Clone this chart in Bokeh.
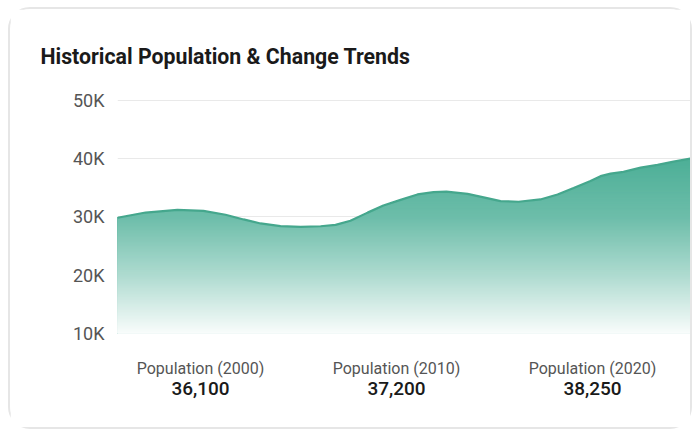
import numpy as np
from bokeh.plotting import figure
from bokeh.models import Range1d, FixedTicker, CustomJSTickFormatter, LinearAxis
from bokeh.embed import file_html
from bokeh.resources import INLINE

# ---- data ----
title_text = "Historical Population & Change Trends"
years = [2000.00, 2000.98, 2002.09, 2003.00, 2003.77, 2004.40, 2004.99, 2005.69, 2006.39,
         2007.09, 2007.61, 2008.13, 2008.73, 2009.28, 2009.88, 2010.47, 2011.03, 2011.48,
         2012.22, 2012.78, 2013.37, 2014.00, 2014.76, 2015.36, 2015.92, 2016.51, 2016.86,
         2017.21, 2017.66, 2018.26, 2018.85, 2019.41, 2020.00]
population = [29860, 30755, 31200, 31050, 30380, 29570, 28880, 28420, 28300,
              28400, 28630, 29350, 30740, 31970, 32920, 33860, 34260, 34330,
              33950, 33350, 32710, 32610, 33000, 33860, 34960, 36150, 37000,
              37420, 37740, 38450, 38930, 39480, 40010]
y_ticks = [10000, 20000, 30000, 40000, 50000]
stat_labels = ["Population (2000)", "Population (2010)", "Population (2020)"]
stat_values = [36100, 37200, 38250]

# ---- style ----
FONT = "Roboto"
base_rgb = np.array([77, 175, 151])
line_color = "#45a78d"

W, H = 684, 422
p = figure(width=W, height=H, output_backend="svg", toolbar_location=None,
           x_axis_location=None,
           x_range=Range1d(2000, 2020), y_range=Range1d(10000, 50150),
           min_border_left=107, min_border_right=4, min_border_top=90, min_border_bottom=98,
           styles={"margin": "7px 0 0 8px", "border": "2px solid #e6e6e6", "border-radius": "22px"})
p.outline_line_color = None
p.background_fill_color = "white"
p.border_fill_color = "white"
for g in p.grid:
    if g.dimension == 0:
        g.visible = False
    else:
        g.grid_line_color = "#e9e9e9"
        g.grid_line_width = 1

yax = p.yaxis[0]
yax.ticker = FixedTicker(ticks=y_ticks)
yax.formatter = CustomJSTickFormatter(code="return (tick/1000) + 'K';")
yax.axis_line_color = None
yax.major_tick_line_color = None
yax.minor_tick_line_color = None
yax.major_tick_out = 0
yax.major_tick_in = 0
yax.major_label_standoff = 13
yax.major_label_text_font = FONT
yax.major_label_text_font_size = "18px"
yax.major_label_text_color = "#555555"

# ---- title ----
p.title.text = title_text
p.title.align = "left"
p.title.offset = -77
p.title.standoff = 62
p.title.text_font = FONT
p.title.text_font_size = "21.3px"
p.title.text_font_style = "bold"
p.title.text_color = "#1a1a1a"

# ---- gradient area (stacked opaque bands, darkest first) ----
pop = np.array(population, dtype=float)
levels = np.arange(y_ticks[0], pop.max() + 500, 250.0)[::-1]
alpha_v = [10000, 20000, 30000, 40000]
alpha_a = [0.03, 0.45, 0.82, 1.0]
for hi in levels:
    a = float(np.interp(hi, alpha_v, alpha_a))
    rgb = 255 - a * (255 - base_rgb)
    col = "#%02x%02x%02x" % tuple(int(round(c)) for c in rgb)
    p.varea(x=years, y1=[y_ticks[0]] * len(years), y2=np.minimum(pop, hi),
            fill_color=col, fill_alpha=1.0)

p.line(years, population, line_color=line_color, line_width=2.2)

# ---- stats row: two axes on an extra range, one column per stat ----
# columns 196px apart, first column centre 83px right of the frame's left edge
p.extra_x_ranges = {"stats": Range1d(-83 / 196, 490 / 196)}
stat_idx = list(range(len(stat_labels)))

def stats_axis(labels, size, color, standoff, font):
    ax = LinearAxis(x_range_name="stats", ticker=FixedTicker(ticks=stat_idx, minor_ticks=[]),
                    major_label_overrides={i: t for i, t in zip(stat_idx, labels)})
    ax.axis_line_color = None
    ax.major_tick_line_color = None
    ax.minor_tick_line_color = None
    ax.major_tick_out = 0
    ax.major_tick_in = 0
    ax.major_label_standoff = standoff
    ax.major_label_text_font = font
    ax.major_label_text_font_size = size
    ax.major_label_text_color = color
    return ax

p.add_layout(stats_axis(stat_labels, "16px", "#555555", 25, FONT), "below")
p.add_layout(stats_axis([f"{v:,}" for v in stat_values], "19px", "#1a1a1a", 1,
                        "Roboto Medium, Roboto"), "below")

open("out.html", "w").write(file_html(p, INLINE))
